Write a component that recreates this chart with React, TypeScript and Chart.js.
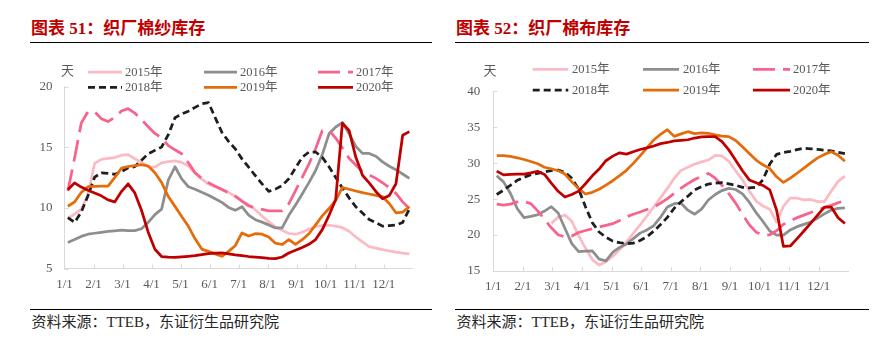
import React, { useEffect, useRef } from 'react';
import { Chart, registerables } from 'chart.js';

Chart.register(...registerables);

// ---------- data ----------
const monthTicks = ['1/1', '2/1', '3/1', '4/1', '5/1', '6/1', '7/1', '8/1', '9/1', '10/1', '11/1', '12/1'];
const weekNumbers = Array.from({ length: 52 }, (_, i) => i + 1);
const seriesNames = ['2015年', '2016年', '2017年', '2018年', '2019年', '2020年'];
const seriesColors = ['#fbbbc4', '#8e8e8e', '#f7638a', '#1e1e1e', '#e46c0a', '#c00000'];
const seriesDash: number[][] = [[], [], [22, 8], [7, 4], [], []];

// 织厂棉纱库存 (天), weekly
const yarn2015 = [9.15, 9.49, 9.87, 11.06, 13.68, 14.01, 14.09, 14.16, 14.35, 14.4,
  14.06, 13.75, 13.4, 13.37, 13.72, 13.82, 13.88, 13.76, 13.46, 12.88,
  12.37, 11.96, 11.76, 11.55, 11.28, 10.95, 10.58, 10.26, 9.85, 9.33,
  8.87, 8.42, 8.15, 7.89, 7.83, 7.99, 8.26, 8.45, 8.55, 8.57,
  8.5, 8.37, 8.07, 7.6, 7.19, 6.8, 6.68, 6.56, 6.45, 6.35,
  6.27, 6.2];
const yarn2016 = [7.15, 7.39, 7.65, 7.83, 7.91, 7.99, 8.06, 8.11, 8.17, 8.13,
  8.13, 8.28, 8.8, 9.45, 9.9, 12.3, 13.4, 12.4, 11.75, 11.54,
  11.3, 11.05, 10.76, 10.46, 10.04, 9.8, 10.1, 9.4, 9.03, 8.83,
  8.6, 8.35, 8.35, 9.39, 10.25, 11.15, 12.09, 13.09, 14.4, 16.12,
  16.68, 17.05, 16.13, 15.08, 14.5, 14.5, 14.27, 13.8, 13.44, 13.16,
  12.8, 12.44];
const yarn2017 = [11.4, 14.1, 17.0, 17.94, 17.94, 17.37, 17.13, 17.48, 18.0, 18.2,
  17.83, 17.3, 16.7, 16.15, 15.79, 15.15, 14.8, 14.47, 13.73, 12.9,
  12.44, 12.09, 11.79, 11.52, 11.26, 10.97, 10.57, 10.17, 10.02, 9.88,
  9.75, 9.75, 9.76, 10.34, 11.42, 12.52, 13.62, 14.89, 16.4, 16.4,
  15.77, 14.94, 14.1, 13.55, 13.0, 12.72, 12.44, 12.08, 11.67, 11.2,
  10.5, 9.95];
const yarn2018 = [9.2, 8.8, 9.65, 11.0, 12.54, 12.9, 12.86, 12.77, 13.0, 13.31,
  13.41, 13.94, 14.47, 14.75, 15.02, 16.05, 17.45, 17.75, 17.99, 18.3,
  18.6, 18.7, 17.46, 16.25, 15.49, 14.88, 14.05, 13.36, 12.66, 11.99,
  11.37, 11.55, 11.85, 12.41, 13.3, 14.18, 14.61, 14.62, 14.18, 13.4,
  12.52, 11.65, 10.83, 10.1, 9.58, 9.05, 8.78, 8.5, 8.54, 8.58,
  8.8, 9.9];
const yarn2019 = [10.14, 10.49, 11.27, 11.75, 11.78, 11.8, 11.8, 12.5, 13.28, 13.42,
  13.5, 13.58, 13.46, 12.9, 12.1, 10.94, 10.13, 9.3, 8.48, 7.45,
  6.6, 6.41, 6.21, 6.01, 6.41, 6.88, 7.94, 7.68, 7.87, 7.83,
  7.6, 7.09, 6.98, 7.38, 7.0, 7.38, 7.87, 8.6, 9.35, 9.95,
  10.62, 11.69, 11.54, 11.4, 11.27, 11.15, 11.04, 10.93, 10.37, 9.6,
  9.65, 10.1];
const yarn2020 = [11.5, 12.07, 11.72, 11.46, 11.24, 11.0, 10.66, 10.5, 11.35, 11.99,
  11.24, 9.81, 8.0, 6.59, 5.99, 5.94, 5.91, 5.96, 6.01, 6.06,
  6.14, 6.22, 6.27, 6.29, 6.21, 6.12, 6.06, 5.99, 5.94, 5.9,
  5.83, 5.81, 5.95, 6.28, 6.51, 6.73, 7.0, 7.39, 8.21, 9.38,
  10.7, 17.0, 16.4, 14.2, 12.7, 12.07, 11.36, 10.75, 11.02, 12.0,
  16.0, 16.3];

// 织厂棉布库存 (天), weekly
const cloth2015 = [null, null, null, null, null, null, null, null, 21.61, 22.51,
  22.77, 21.92, 19.91, 18.19, 16.59, 15.81, 16.29, 17.06, 17.96, 19.06,
  20.22, 21.4, 22.65, 23.91, 25.2, 26.49, 27.9, 28.99, 29.45, 29.87,
  30.18, 30.44, 31.09, 31.0, 30.26, 28.94, 27.68, 26.11, 24.73, 24.03,
  23.6, 21.8, 24.03, 25.14, 25.14, 24.9, 24.95, 24.65, 24.68, 26.1,
  27.47, 28.2];
const cloth2016 = [28.24, 27.4, 25.81, 23.7, 22.42, 22.59, 22.83, 23.34, 23.95, 23.07,
  20.91, 18.81, 17.7, 17.75, 17.79, 16.66, 16.41, 17.61, 18.28, 18.76,
  19.5, 20.27, 20.72, 21.3, 22.49, 23.9, 24.37, 24.43, 23.46, 22.9,
  23.6, 24.88, 25.65, 26.19, 26.49, 26.34, 25.73, 24.57, 23.12, 21.89,
  20.56, 19.99, 19.99, 20.72, 21.17, 21.49, 21.81, 22.35, 22.94, 23.48,
  23.7, 23.77];
const cloth2017 = [24.3, 24.17, 24.31, 24.61, 24.68, 24.37, 23.37, 22.19, 21.01, 20.05,
  19.73, 19.86, 20.36, 20.63, 20.88, 21.12, 21.35, 21.59, 22.02, 22.53,
  22.9, 23.21, 23.55, 23.88, 24.44, 25.06, 25.8, 26.52, 27.16, 27.73,
  28.18, 28.57, 27.91, 26.92, 25.77, 24.44, 22.88, 21.43, 20.4, 20.04,
  20.04, 20.61, 21.49, 21.96, 22.42, 22.77, 23.13, 23.49, 23.83, 24.13,
  24.5, 24.8];
const cloth2018 = [25.64, 26.25, 26.91, 27.61, 28.03, 28.4, 28.59, 28.78, 28.97, 29.05,
  28.73, 27.89, 26.4, 23.95, 21.73, 20.43, 19.69, 19.15, 18.94, 18.81,
  18.88, 19.24, 19.77, 20.54, 21.47, 22.46, 23.73, 24.63, 25.41, 26.28,
  26.72, 27.1, 27.21, 27.3, 27.13, 26.93, 26.64, 26.55, 26.65, 27.69,
  29.88, 31.22, 31.5, 31.64, 31.89, 32.09, 32.0, 31.92, 31.82, 31.7,
  31.51, 31.33];
const cloth2019 = [31.06, 31.06, 30.95, 30.75, 30.51, 30.23, 29.92, 29.43, 29.22, 28.95,
  28.48, 27.4, 26.46, 25.71, 25.94, 26.37, 26.95, 27.56, 28.26, 29.01,
  29.97, 31.02, 32.13, 33.23, 34.02, 34.66, 33.73, 34.08, 34.38, 34.11,
  34.2, 34.16, 33.95, 33.77, 33.7, 33.16, 32.27, 31.36, 30.43, 29.78,
  29.25, 28.11, 27.32, 27.91, 28.6, 29.32, 30.04, 30.74, 31.22, 31.58,
  31.11, 30.27];
const cloth2020 = [28.9, 28.37, 28.43, 28.48, 28.49, 28.64, 28.88, 28.44, 27.22, 26.09,
  25.29, 25.64, 26.11, 27.14, 28.24, 29.19, 30.34, 30.98, 31.44, 31.26,
  31.59, 31.9, 32.12, 32.39, 32.72, 32.88, 33.1, 33.18, 33.26, 33.5,
  33.65, 33.7, 33.7, 33.01, 31.85, 30.42, 28.95, 27.67, 27.29, 26.9,
  26.29, 23.45, 18.42, 18.48, 19.51, 20.57, 21.67, 22.77, 23.9, 23.9,
  22.4, 21.6];

const yarnSeries = [yarn2015, yarn2016, yarn2017, yarn2018, yarn2019, yarn2020];
const clothSeries = [cloth2015, cloth2016, cloth2017, cloth2018, cloth2019, cloth2020];

const yarnAxis = { min: 5, max: 20, step: 5 };
const clothAxis = { min: 15, max: 40, step: 5 };

// ---------- chart ----------
type PanelLayout = {
  width: number;
  height: number;
  padTop: number;
  padRight: number;
  yAxisWidth: number;
  xAxisHeight: number;
  yLabelPad: number;
  xLabelPad: number;
  unitX: number;
  unitY: number;
  legendRows: number[];
  legendLineStart: number[];
  legendLineEnd: number[];
  legendTextX: number[];
};

const serifFont = '"Liberation Serif", "Times New Roman", "Noto Sans CJK SC", serif';
const axisColor = '#d9d9d9';
const textColor = '#595959';
const lineWidth = 2.75;

function buildChart(
  canvas: HTMLCanvasElement,
  series: (number | null)[][],
  axis: { min: number; max: number; step: number },
  L: PanelLayout
) {
  const xs = weekNumbers.map((w) => ((w - 0.5) * 12) / 52);
  const datasets = series.map((vals, i) => ({
    label: seriesNames[i],
    data: vals.map((v, j) => ({ x: xs[j], y: v })),
    borderColor: seriesColors[i],
    backgroundColor: seriesColors[i],
    borderWidth: lineWidth,
    borderDash: seriesDash[i],
    borderJoinStyle: 'round' as const,
    pointRadius: 0,
    pointHoverRadius: 0,
    tension: 0,
    fill: false,
    spanGaps: false,
    order: series.length - 1 - i,
  }));

  const decor = {
    id: 'decor',
    afterDraw(chart: any) {
      const { ctx, chartArea, scales } = chart;
      ctx.save();
      // inward tick marks
      ctx.strokeStyle = axisColor;
      ctx.lineWidth = 1;
      ctx.setLineDash([]);
      for (let m = 1; m < 12; m++) {
        const x = Math.round(scales.x.getPixelForValue(m)) + 0.5;
        ctx.beginPath();
        ctx.moveTo(x, chartArea.bottom);
        ctx.lineTo(x, chartArea.bottom - 4);
        ctx.stroke();
      }
      scales.y.ticks.forEach((t: any) => {
        const y = Math.round(scales.y.getPixelForValue(t.value)) + 0.5;
        ctx.beginPath();
        ctx.moveTo(chartArea.left, y);
        ctx.lineTo(chartArea.left + 4, y);
        ctx.stroke();
      });
      // unit
      ctx.fillStyle = textColor;
      ctx.font = '13px "Noto Sans CJK SC", sans-serif';
      ctx.textAlign = 'center';
      ctx.textBaseline = 'middle';
      ctx.fillText('天', L.unitX, L.unitY);
      // legend
      for (let i = 0; i < seriesNames.length; i++) {
        const col = i % 3;
        const row = Math.floor(i / 3);
        const y = L.legendRows[row];
        ctx.beginPath();
        ctx.setLineDash(seriesDash[i]);
        ctx.strokeStyle = seriesColors[i];
        ctx.lineWidth = lineWidth;
        ctx.moveTo(L.legendLineStart[col], y);
        ctx.lineTo(L.legendLineEnd[col], y);
        ctx.stroke();
        ctx.setLineDash([]);
        ctx.fillStyle = textColor;
        ctx.font = '12.5px ' + serifFont;
        ctx.textAlign = 'left';
        ctx.textBaseline = 'middle';
        ctx.fillText(seriesNames[i], L.legendTextX[col], y + 0.5);
      }
      ctx.restore();
    },
  };

  return new Chart(canvas, {
    type: 'line',
    data: { datasets },
    options: {
      responsive: false,
      animation: false,
      devicePixelRatio: 1,
      layout: { padding: { top: L.padTop, right: L.padRight, left: 0, bottom: 0 } },
      plugins: { legend: { display: false }, tooltip: { enabled: false } },
      events: [],
      scales: {
        x: {
          type: 'linear',
          min: 0,
          max: 12,
          grid: { display: false, drawTicks: false },
          border: { display: true, color: axisColor, width: 1 },
          ticks: {
            stepSize: 1,
            autoSkip: false,
            maxRotation: 0,
            padding: L.xLabelPad,
            color: textColor,
            font: { family: serifFont, size: 13 },
            callback: (v: any) => (Number(v) < 12 ? monthTicks[Number(v)] : ''),
          },
          afterFit: (s: any) => {
            s.height = L.xAxisHeight;
          },
        },
        y: {
          type: 'linear',
          min: axis.min,
          max: axis.max,
          grid: { display: false, drawTicks: false },
          border: { display: true, color: axisColor, width: 1 },
          ticks: {
            stepSize: axis.step,
            padding: L.yLabelPad,
            color: textColor,
            font: { family: serifFont, size: 13 },
          },
          afterFit: (s: any) => {
            s.width = L.yAxisWidth;
          },
        },
      },
    } as any,
    plugins: [decor],
  });
}

const leftLayout: PanelLayout = {
  width: 440,
  height: 300,
  padTop: 86.8,
  padRight: 27.3,
  yAxisWidth: 64.5,
  xAxisHeight: 31.5,
  yLabelPad: 12,
  xLabelPad: 8,
  unitX: 67.5,
  unitY: 70.5,
  legendRows: [72, 87.3],
  legendLineStart: [88, 204, 318],
  legendLineEnd: [122, 237, 353],
  legendTextX: [125, 240, 356],
};

const rightLayout: PanelLayout = {
  width: 436,
  height: 300,
  padTop: 91.3,
  padRight: 27.7,
  yAxisWidth: 53.3,
  xAxisHeight: 29,
  yLabelPad: 13,
  xLabelPad: 8,
  unitX: 50,
  unitY: 70,
  legendRows: [69.3, 90],
  legendLineStart: [92.7, 203, 313],
  legendLineEnd: [128.3, 239, 350],
  legendTextX: [132, 243, 353],
};

function Panel(props: {
  left: number;
  title: string;
  series: (number | null)[][];
  axis: { min: number; max: number; step: number };
  layout: PanelLayout;
  ruleLeft: number;
  ruleWidth: number;
  titleLeft: number;
}) {
  const ref = useRef<HTMLCanvasElement | null>(null);
  useEffect(() => {
    if (!ref.current) return;
    const chart = buildChart(ref.current, props.series, props.axis, props.layout);
    return () => chart.destroy();
  }, []);
  const { layout } = props;
  return (
    <>
      <div
        style={{
          position: 'absolute',
          left: props.titleLeft,
          top: 20,
          fontFamily: '"Liberation Serif", "Noto Sans CJK SC", serif',
          fontWeight: 700,
          fontSize: 17,
          lineHeight: '17px',
          color: '#c00000',
          whiteSpace: 'nowrap',
        }}
      >
        {props.title}
      </div>
      <div
        style={{
          position: 'absolute',
          left: props.ruleLeft,
          top: 41.5,
          width: props.ruleWidth,
          height: 1.5,
          background: '#000',
        }}
      />
      <canvas
        ref={ref}
        width={layout.width}
        height={layout.height}
        style={{ position: 'absolute', left: props.left, top: 0, width: layout.width, height: layout.height }}
      />
      <div
        style={{
          position: 'absolute',
          left: props.ruleLeft,
          top: 308.5,
          width: props.ruleWidth,
          height: 1.5,
          background: '#000',
        }}
      />
      <div
        style={{
          position: 'absolute',
          left: props.ruleLeft + 1.5,
          top: 314.5,
          fontFamily: '"Liberation Serif", "Noto Sans CJK SC", serif',
          fontSize: 15,
          lineHeight: '15px',
          color: '#262626',
          whiteSpace: 'nowrap',
        }}
      >
        资料来源：TTEB，东证衍生品研究院
      </div>
    </>
  );
}

export default function App() {
  return (
    <div
      style={{
        position: 'absolute',
        left: 0,
        top: 0,
        width: 876,
        height: 361,
        background: '#fff',
        overflow: 'hidden',
      }}
    >
      <Panel
        left={0}
        title="图表 51：织厂棉纱库存"
        series={yarnSeries}
        axis={yarnAxis}
        layout={leftLayout}
        ruleLeft={30}
        ruleWidth={402}
        titleLeft={31}
      />
      <Panel
        left={440}
        title="图表 52：织厂棉布库存"
        series={clothSeries}
        axis={clothAxis}
        layout={rightLayout}
        ruleLeft={455}
        ruleWidth={414}
        titleLeft={456}
      />
    </div>
  );
}
